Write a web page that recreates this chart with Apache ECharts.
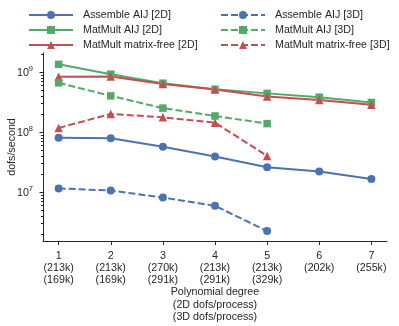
<!DOCTYPE html>
<html><head><meta charset="utf-8">
<script src="https://cdn.jsdelivr.net/npm/echarts@6/dist/echarts.min.js"></script>
<style>html,body{margin:0;padding:0;background:#fff}#c{width:399px;height:326px}</style>
</head><body><div id="c"></div>
<script>
const degrees = [1, 2, 3, 4, 5, 6, 7];
const dofs2D = ['213k', '213k', '270k', '213k', '213k', '202k', '255k'];
const dofs3D = ['169k', '169k', '291k', '291k', '329k', null, null];
const assemble2D = [8.0e7, 7.85e7, 5.7e7, 3.9e7, 2.58e7, 2.2e7, 1.65e7];
const assemble3D = [1.15e7, 1.06e7, 8.1e6, 5.9e6, 2.24e6];
const matmult2D = [1.34e9, 9.2e8, 6.5e8, 5.15e8, 4.4e8, 3.8e8, 3.1e8];
const matmult3D = [6.6e8, 4.0e8, 2.5e8, 1.85e8, 1.38e8];
const mf2D = [8.35e8, 8.4e8, 6.3e8, 5.1e8, 3.9e8, 3.4e8, 2.85e8];
const mf3D = [1.17e8, 2.0e8, 1.76e8, 1.43e8, 4.0e7];
const yMin = 1.53e6, yMax = 2.07e9;
const xMin = 0.7, xMax = 7.3;

const BLUE = '#4C72B0', GREEN = '#55A868', RED = '#C44E52', INK = '#262626';
const FONT = "'Liberation Sans', Arial, sans-serif";
const FS = 10.7;

function pairs(vals) { return vals.map((v, i) => [degrees[i], v]); }
function mk(name, vals, color, symbol, size, dashed) {
  return {
    name, type: 'line', data: pairs(vals), symbol, symbolSize: size,
    lineStyle: { color, width: 2, type: dashed ? [7, 3] : 'solid' },
    itemStyle: { color, borderColor: color, borderWidth: 0 },
    emphasis: { disabled: true }, animation: false
  };
}

const chart = echarts.init(document.getElementById('c'), null, { renderer: 'canvas' });
const legendCommon = {
  orient: 'vertical', top: 9, padding: 0, itemWidth: 44, itemHeight: 10, itemGap: 3,
  textStyle: { fontFamily: FONT, fontSize: FS, color: INK, lineHeight: 12, padding: [0, 0, 0, 5] },
  selectedMode: false
};
chart.setOption({
  animation: false,
  textStyle: { fontFamily: FONT },
  legend: [
    Object.assign({ left: 28, data: ['Assemble AIJ [2D]', 'MatMult AIJ [2D]', 'MatMult matrix-free [2D]'] }, legendCommon),
    Object.assign({ left: 220, data: ['Assemble AIJ [3D]', 'MatMult AIJ [3D]', 'MatMult matrix-free [3D]'] }, legendCommon)
  ],
  grid: { left: 43, right: 12, top: 53, bottom: 85, outerBoundsMode: 'none', containLabel: false },
  xAxis: {
    type: 'value', min: xMin, max: xMax,
    name: 'Polynomial degree\n(2D dofs/process)\n(3D dofs/process)',
    nameLocation: 'middle', nameGap: 45, nameMoveOverlap: false,
    nameTextStyle: { fontFamily: FONT, fontSize: FS, color: INK, lineHeight: 12.5, align: 'center', verticalAlign: 'top' },
    axisLine: { lineStyle: { color: INK, width: 1 } },
    axisTick: { show: true, length: 4, lineStyle: { color: INK }, customValues: degrees },
    axisLabel: {
      customValues: degrees, margin: 9, fontFamily: FONT, fontSize: FS, color: INK, lineHeight: 12,
      formatter: function (v) {
        const i = degrees.indexOf(Math.round(v));
        if (i < 0) return '';
        let s = degrees[i] + '\n(' + dofs2D[i] + ')';
        if (dofs3D[i]) s += '\n(' + dofs3D[i] + ')';
        return s;
      }
    },
    splitLine: { show: false }
  },
  yAxis: {
    type: 'log', min: yMin, max: yMax, logBase: 10,
    name: 'dofs/second', nameLocation: 'middle', nameGap: 25, nameMoveOverlap: false,
    nameTextStyle: { fontFamily: FONT, fontSize: FS, color: INK },
    axisLine: { show: true, lineStyle: { color: INK, width: 1 } },
    axisTick: { show: false },
    splitLine: { show: false },
    axisLabel: {
      margin: 10, showMinLabel: false, showMaxLabel: false, color: INK,
      formatter: function (v) {
        const e = Math.round(Math.log10(v));
        return '{b|10}{s|' + e + '}';
      },
      rich: {
        b: { fontFamily: FONT, fontSize: FS, color: INK, lineHeight: 14, verticalAlign: 'bottom' },
        s: { fontFamily: FONT, fontSize: 7.5, color: INK, lineHeight: 14, verticalAlign: 'top' }
      }
    }
  },
  series: [
    mk('Assemble AIJ [2D]', assemble2D, BLUE, 'circle', 8, false),
    mk('MatMult AIJ [2D]', matmult2D, GREEN, 'rect', 7.5, false),
    mk('MatMult matrix-free [2D]', mf2D, RED, 'triangle', 8.5, false),
    mk('Assemble AIJ [3D]', assemble3D, BLUE, 'circle', 8, true),
    mk('MatMult AIJ [3D]', matmult3D, GREEN, 'rect', 7.5, true),
    mk('MatMult matrix-free [3D]', mf3D, RED, 'triangle', 8.5, true)
  ]
});

// y ticks (major + log minor) positioned through the axis scale
const axisX = Math.round(chart.convertToPixel({ xAxisIndex: 0 }, xMin)) + 0.5;
const tickEls = [];
for (let e = 5; e <= 9; e++) {
  for (let m = 1; m <= 9; m++) {
    const v = m * Math.pow(10, e);
    if (v < yMin || v > yMax) continue;
    const y = Math.round(chart.convertToPixel({ yAxisIndex: 0 }, v)) + 0.5;
    const len = m === 1 ? 4 : 2.5;
    tickEls.push({ type: 'line', silent: true, shape: { x1: axisX - len, y1: y, x2: axisX, y2: y }, style: { stroke: INK, lineWidth: 1 } });
  }
}
chart.setOption({ graphic: tickEls });
</script></body></html>
